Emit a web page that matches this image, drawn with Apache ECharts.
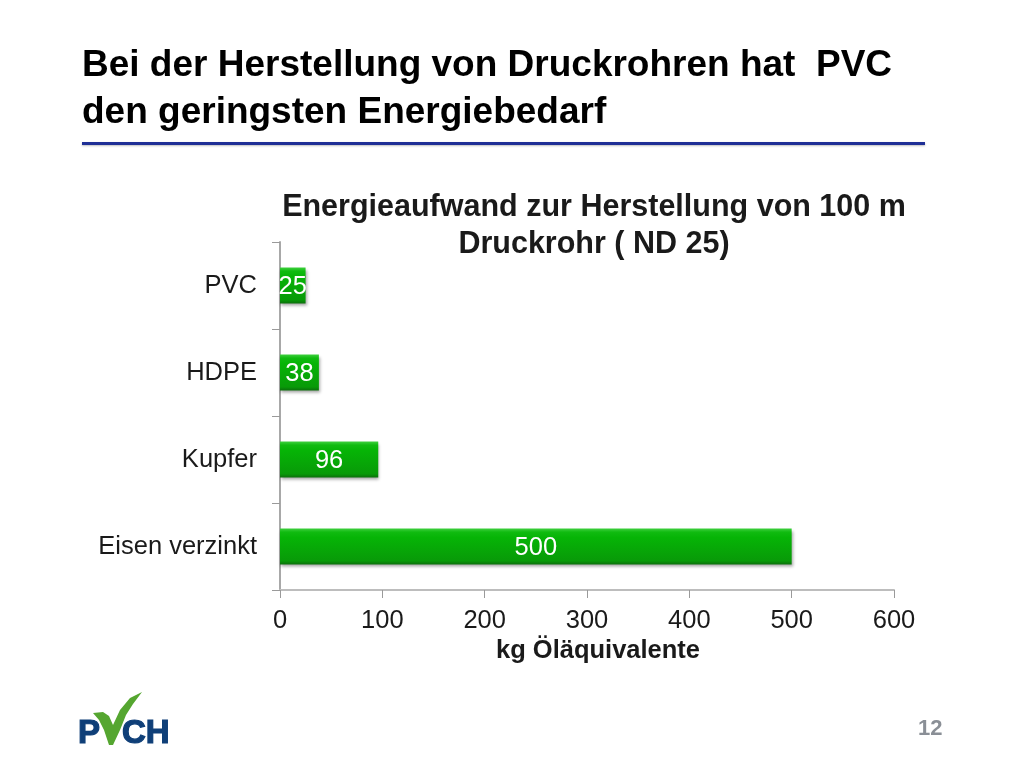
<!DOCTYPE html>
<html>
<head>
<meta charset="utf-8">
<style>
  html, body { margin: 0; padding: 0; background: #fff; }
  #chart { width: 1024px; height: 768px; }
</style>
<script src="https://cdn.jsdelivr.net/npm/echarts@6/dist/echarts.min.js"></script>
</head>
<body>
<div id="chart"></div>
<script>
const categories = ["PVC", "HDPE", "Kupfer", "Eisen verzinkt"];
const energyValues = [25, 38, 96, 500];
const axisTicks = [0, 100, 200, 300, 400, 500, 600];

const font = "Liberation Sans, Arial, sans-serif";
const chart = echarts.init(document.getElementById("chart"));

// glossy green bar, lighter rim on top and a dark edge at the bottom
const barFill = new echarts.graphic.LinearGradient(0, 0, 0, 1, [
  { offset: 0, color: "#3fd03f" },
  { offset: 0.1, color: "#10bb10" },
  { offset: 0.25, color: "#06b406" },
  { offset: 0.9, color: "#089a08" },
  { offset: 1, color: "#0b6f0b" },
]);

chart.setOption({
  animation: false,
  backgroundColor: "#fff",
  title: [
    {
      text: "Bei der Herstellung von Druckrohren hat  PVC\nden geringsten Energiebedarf",
      left: 77, top: 37,
      textStyle: { fontFamily: font, fontWeight: "bold", fontSize: 37, lineHeight: 47, color: "#000" },
    },
    {
      text: "Energieaufwand zur Herstellung von 100 m\nDruckrohr ( ND 25)",
      left: 589, top: 184, textAlign: "center",
      textStyle: { fontFamily: font, fontWeight: "bold", fontSize: 30.5, lineHeight: 37, color: "#1a1a1a" },
    },
  ],
  grid: { left: 280, top: 242, width: 614, height: 348, containLabel: false },
  xAxis: {
    type: "value", min: 0, max: 600, interval: 100,
    name: "kg Öläquivalente", nameLocation: "middle", nameGap: 48,
    nameTextStyle: { fontFamily: font, fontWeight: "bold", fontSize: 25.5, color: "#1a1a1a", padding: [0, 0, 0, 22] },
    splitLine: { show: false },
    axisLine: { show: true, lineStyle: { color: "#bdbdbd", width: 2 } },
    axisTick: { show: true, length: 8, lineStyle: { color: "#9a9a9a", width: 1 } },
    axisLabel: {
      fontFamily: font, fontSize: 25.5, color: "#1a1a1a", margin: 18,
      formatter: (v) => (axisTicks.includes(v) ? String(v) : ""),
    },
  },
  yAxis: {
    type: "category", data: categories, inverse: true,
    axisLine: { show: true, lineStyle: { color: "#a8a8a8", width: 2 } },
    axisTick: { show: true, length: 8, alignWithLabel: false, lineStyle: { color: "#9a9a9a", width: 1 } },
    axisLabel: { fontFamily: font, fontSize: 25.5, color: "#1a1a1a", margin: 23, padding: [6, 0, 0, 0] },
  },
  series: [
    {
      type: "bar", data: energyValues, barWidth: 36,
      itemStyle: {
        color: barFill,
        shadowColor: "rgba(0,0,0,0.35)", shadowBlur: 3, shadowOffsetX: 1, shadowOffsetY: 2,
      },
      label: {
        show: true, position: "inside", offset: [0, 1],
        fontFamily: font, fontSize: 25.5, color: "#fff",
      },
    },
  ],
  graphic: [
    // rule under the slide title
    {
      type: "rect", z: 5,
      shape: { x: 82, y: 142, width: 843, height: 3 },
      style: { fill: "#1f2f96", shadowColor: "rgba(0,0,0,0.25)", shadowBlur: 2, shadowOffsetY: 1 },
    },
    // logo lettering with the tick mark over it
    {
      type: "text", z: 5, x: 78, y: 717,
      style: { text: "P", fontFamily: font, fontWeight: "bold", fontSize: 33, fill: "#0f3f78", stroke: "#0f3f78", lineWidth: 1.2 },
    },
    {
      type: "text", z: 5, x: 122, y: 717,
      style: { text: "CH", fontFamily: font, fontWeight: "bold", fontSize: 33, fill: "#0f3f78", stroke: "#0f3f78", lineWidth: 1.2 },
    },
    {
      type: "polygon", z: 6,
      shape: { points: [[93, 713], [103, 712], [109, 716], [113, 725], [120, 710], [130, 698], [142, 692], [133, 704], [126, 715], [120, 730], [113, 745], [109, 745], [104, 730], [99, 720]] },
      style: { fill: "#55a630" },
    },
    // slide number
    {
      type: "text", z: 5, x: 918, y: 718,
      style: { text: "12", fontFamily: font, fontWeight: "bold", fontSize: 22, fill: "#8a8f96" },
    },
  ],
});
</script>
</body>
</html>
